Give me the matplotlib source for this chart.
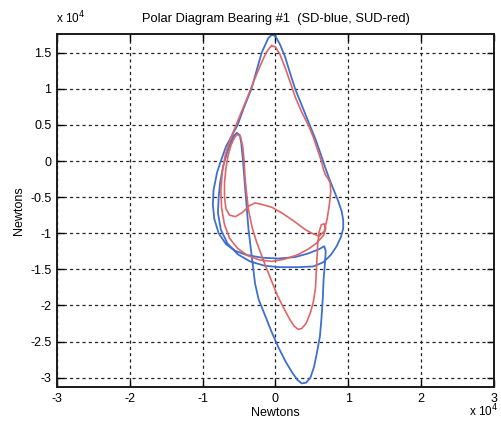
#!/usr/bin/env python3
"""
Polar load diagram for main bearing #1, SD vs SUD cases.
"""

import matplotlib
matplotlib.use('Agg')
import matplotlib.pyplot as plt
import numpy as np

# Bearing load components (x 10^4 N), SD case
sd_x = [-0.05, 0.00, 0.06, 0.13, 0.20, 0.27, 0.37, 0.47, 0.55, 0.62, 0.68,
        0.74, 0.80, 0.86, 0.91, 0.93, 0.93, 0.90, 0.84, 0.76, 0.66, 0.52,
        0.30, 0.05, -0.15, -0.35, -0.52, -0.66, -0.75, -0.79, -0.78, -0.76,
        -0.72, -0.67, -0.62, -0.57, -0.53, -0.49, -0.47, -0.45, -0.43, -0.41,
        -0.39, -0.37, -0.34, -0.31, -0.28, -0.23, -0.15, -0.06, 0.04, 0.14,
        0.23, 0.30, 0.36, 0.42, 0.48, 0.53, 0.57, 0.61, 0.63, 0.65, 0.66,
        0.68, 0.69, 0.67, 0.60, 0.45, 0.27, 0.05, -0.18, -0.40, -0.56, -0.68,
        -0.78, -0.84, -0.86, -0.85, -0.80, -0.75, -0.68, -0.60, -0.52, -0.43,
        -0.33, -0.26, -0.19, -0.10, -0.05]
sd_y = [1.75, 1.73, 1.62, 1.45, 1.22, 1.00, 0.75, 0.50, 0.30, 0.10, -0.08,
        -0.25, -0.40, -0.55, -0.70, -0.82, -0.93, -1.05, -1.18, -1.30, -1.40,
        -1.46, -1.47, -1.47, -1.45, -1.39, -1.29, -1.14, -0.95, -0.72, -0.50,
        -0.30, -0.08, 0.10, 0.25, 0.35, 0.39, 0.36, 0.25, 0.05, -0.20, -0.45,
        -0.70, -0.95, -1.20, -1.45, -1.70, -1.92, -2.12, -2.35, -2.58, -2.78,
        -2.93, -3.03, -3.08, -3.07, -3.00, -2.85, -2.65, -2.43, -2.20, -1.90,
        -1.65, -1.41, -1.25, -1.18, -1.22, -1.28, -1.33, -1.35, -1.34, -1.30,
        -1.24, -1.15, -1.00, -0.80, -0.60, -0.40, -0.15, 0.00, 0.20, 0.35,
        0.50, 0.75, 1.00, 1.25, 1.50, 1.70, 1.75]

# Bearing load components (x 10^4 N), SUD case
sud_x = [-0.05, 0.00, 0.06, 0.13, 0.20, 0.27, 0.36, 0.45, 0.52, 0.58, 0.63,
         0.66, 0.69, 0.72, 0.75, 0.76, 0.74, 0.71, 0.67, 0.60, 0.50, 0.41,
         0.25, 0.09, -0.05, -0.19, -0.28, -0.36, -0.45, -0.55, -0.63, -0.68,
         -0.70, -0.70, -0.68, -0.65, -0.61, -0.56, -0.52, -0.48, -0.45, -0.43,
         -0.42, -0.40, -0.37, -0.32, -0.26, -0.20, -0.13, -0.05, 0.03, 0.12,
         0.20, 0.26, 0.31, 0.36, 0.42, 0.48, 0.52, 0.55, 0.56, 0.57, 0.58,
         0.60, 0.63, 0.67, 0.69, 0.66, 0.56, 0.45, 0.30, 0.12, -0.05, -0.22,
         -0.38, -0.52, -0.63, -0.70, -0.74, -0.75, -0.73, -0.69, -0.63, -0.56,
         -0.48, -0.39, -0.30, -0.21, -0.13, -0.08, -0.05]
sud_y = [1.60, 1.58, 1.48, 1.30, 1.10, 0.89, 0.68, 0.50, 0.33, 0.15, 0.00,
         -0.12, -0.20, -0.24, -0.30, -0.42, -0.60, -0.80, -0.97, -1.04, -1.00,
         -0.95, -0.83, -0.72, -0.64, -0.60, -0.58, -0.62, -0.71, -0.77, -0.75,
         -0.66, -0.50, -0.30, -0.10, 0.08, 0.22, 0.33, 0.37, 0.34, 0.20, 0.00,
         -0.20, -0.42, -0.68, -0.92, -1.12, -1.28, -1.47, -1.67, -1.87, -2.05,
         -2.20, -2.29, -2.33, -2.32, -2.25, -2.10, -1.95, -1.75, -1.55, -1.35,
         -1.15, -0.98, -0.88, -0.87, -0.93, -1.03, -1.14, -1.22, -1.30, -1.36,
         -1.39, -1.37, -1.31, -1.21, -1.07, -0.88, -0.65, -0.40, -0.15, 0.08,
         0.28, 0.45, 0.65, 0.87, 1.10, 1.32, 1.50, 1.57, 1.60]

xticks = [-3, -2, -1, 0, 1, 2, 3]
yticks = [1.5, 1, 0.5, 0, -0.5, -1, -1.5, -2, -2.5, -3]
ytick_labels = ['1.5', '1', '0.5', '0', '-0.5', '-1', '-1.5', '-2', '-2.5', '-3']


def main():
	plt.rcParams['font.family'] = ['Liberation Sans', 'DejaVu Sans']
	fig = plt.figure(figsize=(5.02, 4.23), dpi=100)
	ax = fig.add_axes([0.1135, 0.0851, 0.8705, 0.8345])

	ax.plot(sd_x, sd_y, color='#3f6fcf', lw=1.3)
	ax.plot(sud_x, sud_y, color='#e06666', lw=1.2)

	ax.set_xlim(-3, 3)
	ax.set_ylim(-3.13, 1.76)
	ax.set_xticks(xticks)
	ax.set_xticklabels([str(t) for t in xticks])
	ax.set_yticks(yticks)
	ax.set_yticklabels(ytick_labels)
	ax.tick_params(direction='in', top=True, right=True, length=5,
	               width=1.0, labelsize=9, pad=4)
	ax.grid(True, color='#222222', linestyle=(0, (2.5, 2.5)), linewidth=0.9)
	for s in ax.spines.values():
		s.set_linewidth(1.4)
		s.set_color('#1a1a1a')

	ax.set_title('Polar Diagram Bearing #1  (SD-blue, SUD-red)', fontsize=9.3, pad=9)
	ax.set_xlabel('Newtons', fontsize=9, labelpad=2)
	ax.set_ylabel('Newtons', fontsize=9, labelpad=4)
	fig.text(0.112, 0.945, r'x 10$^4$', fontsize=8.5)
	fig.text(0.935, 0.015, r'x 10$^4$', fontsize=8.5)

	fig.savefig('out.png', dpi=100)


if __name__ == '__main__':
	main()
